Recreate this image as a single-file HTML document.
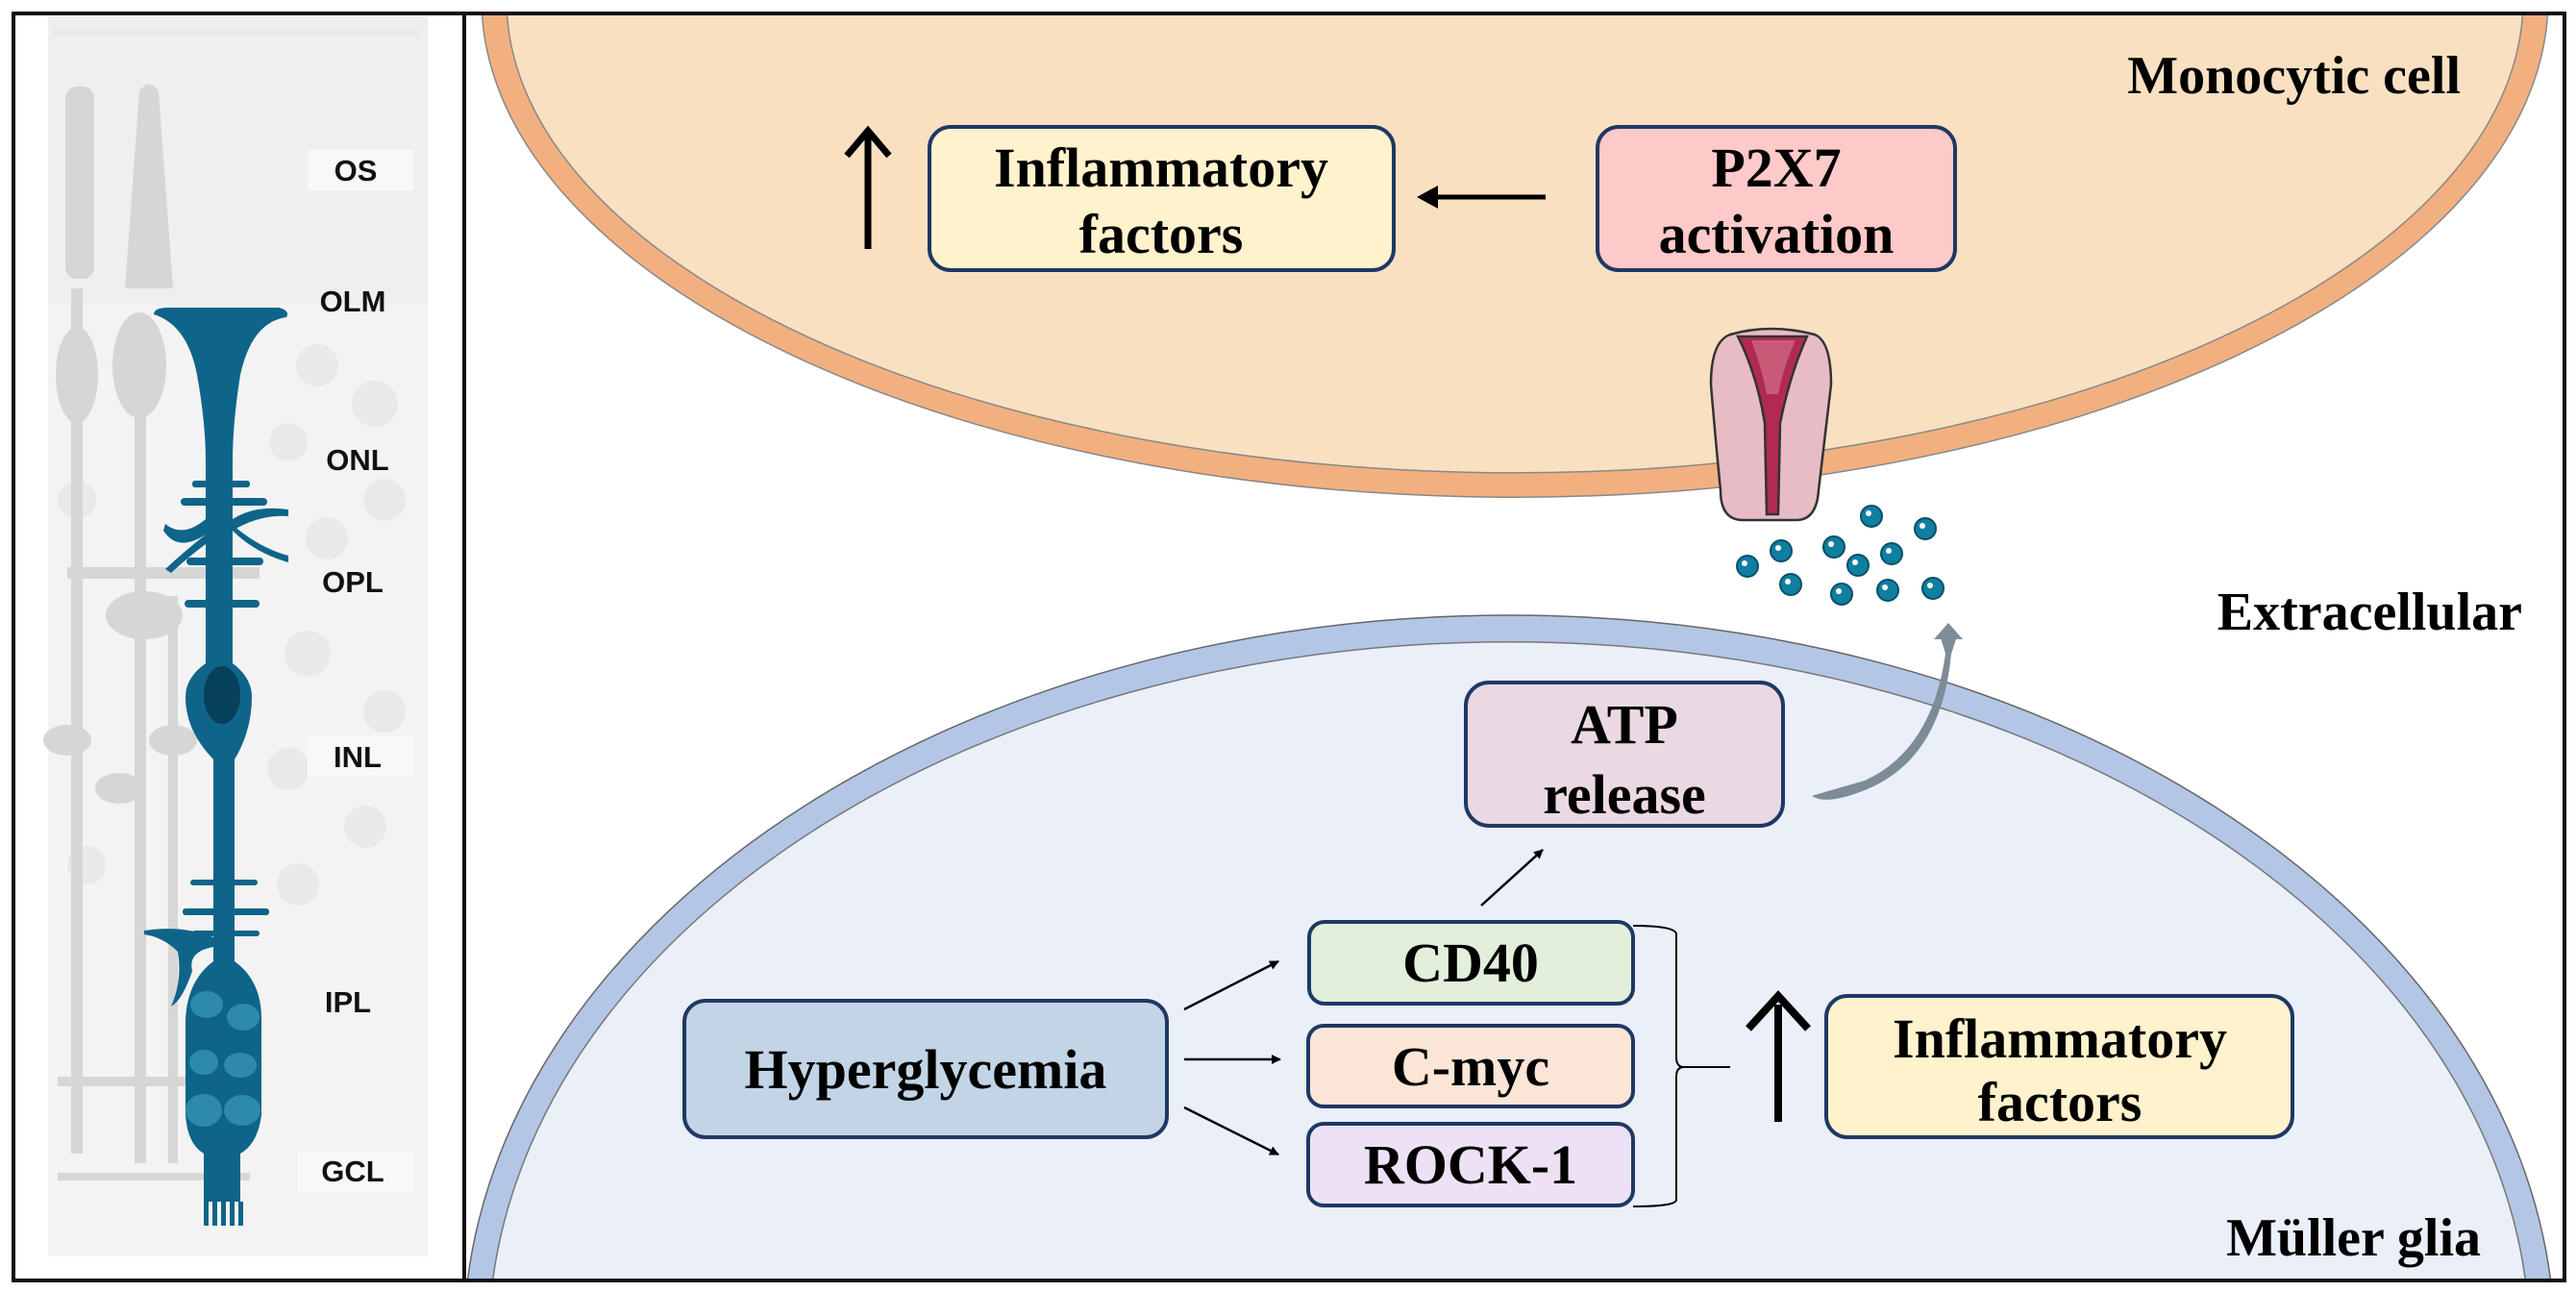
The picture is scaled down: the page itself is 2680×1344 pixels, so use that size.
<!DOCTYPE html>
<html><head><meta charset="utf-8"><style>
html,body{margin:0;padding:0;background:#fff;width:2680px;height:1344px;overflow:hidden;}
svg{display:block;position:absolute;left:0;top:0;}
text{font-family:"Liberation Serif",serif;font-weight:bold;}
.lab{font-family:"Liberation Sans",sans-serif;font-weight:bold;font-size:31px;fill:#111;}
</style></head><body>
<svg width="2680" height="1344" viewBox="0 0 2680 1344" xmlns="http://www.w3.org/2000/svg">
<defs>
<marker id="ah" markerWidth="10" markerHeight="10" refX="9" refY="5" orient="auto" markerUnits="userSpaceOnUse" viewBox="0 0 10 10"><path d="M0,0 L10,5 L0,10 z" fill="#000"/></marker>
</defs>
<rect x="0" y="0" width="2680" height="1344" fill="#fff"/>

<!-- LEFT RETINA PANEL -->
<g>
<rect x="50" y="17" width="395" height="1290" fill="#f3f3f3"/>
<rect x="50" y="17" width="395" height="300" fill="#efefef"/>
<g fill="#e9e9e9">
<rect x="55" y="30" width="380" height="8"/>
<circle cx="330" cy="380" r="22"/><circle cx="390" cy="420" r="24"/><circle cx="300" cy="460" r="20"/><circle cx="400" cy="520" r="22"/><circle cx="80" cy="520" r="20"/><circle cx="340" cy="560" r="22"/>
<circle cx="320" cy="680" r="24"/><circle cx="400" cy="740" r="22"/><circle cx="300" cy="800" r="22"/><circle cx="380" cy="860" r="22"/><circle cx="310" cy="920" r="22"/><circle cx="90" cy="900" r="20"/>
</g>
<rect x="320" y="156" width="110" height="42" fill="#f8f8f8"/>
<rect x="320" y="766" width="110" height="42" fill="#f8f8f8"/>
<rect x="310" y="1198" width="120" height="42" fill="#f8f8f8"/>
<g fill="#d6d6d6">
<rect x="68" y="90" width="30" height="200" rx="12"/>
<ellipse cx="80" cy="390" rx="22" ry="50"/>
<rect x="74" y="300" width="12" height="900"/>
<path d="M130,300 L145,95 Q155,80 165,95 L180,300 z"/>
<ellipse cx="145" cy="380" rx="28" ry="55"/>
<rect x="140" y="420" width="12" height="790"/>
<ellipse cx="150" cy="640" rx="40" ry="25"/>
<rect x="70" y="590" width="200" height="12"/>
<ellipse cx="70" cy="770" rx="25" ry="16"/><ellipse cx="124" cy="820" rx="25" ry="16"/><ellipse cx="180" cy="770" rx="25" ry="16"/>
<rect x="175" y="620" width="10" height="590"/>
<rect x="60" y="1120" width="200" height="10"/>
<rect x="60" y="1220" width="200" height="8"/>
</g>
<g fill="#0f6489">
<path d="M160,327 Q160,320 175,320 L290,320 Q302,323 298,330 Q262,335 250,390 Q242,440 242,480 L242,690 Q262,705 262,725 Q262,760 244,790 L244,1000 Q272,1020 272,1060 L272,1160 Q268,1190 250,1200 L250,1250 L212,1250 L212,1200 Q195,1190 193,1160 L193,1060 Q195,1020 222,1000 L222,790 Q193,760 193,725 Q193,705 214,690 L214,480 Q214,440 205,390 Q195,338 160,327 z"/>
<rect x="200" y="500" width="60" height="7" rx="3"/>
<rect x="188" y="518" width="90" height="8" rx="4"/>
<rect x="194" y="580" width="80" height="8" rx="4"/>
<rect x="192" y="624" width="78" height="8" rx="4"/>
<path d="M214,540 Q190,560 172,545 L170,552 Q185,575 214,556 z"/>
<path d="M214,556 Q190,575 172,592 L178,596 Q195,580 214,566 z"/>
<path d="M242,540 Q265,525 300,530 L300,537 Q270,535 242,552 z"/>
<path d="M242,552 Q265,575 300,585 L300,578 Q270,570 242,546 z"/>
<rect x="198" y="915" width="70" height="6" rx="3"/>
<rect x="190" y="945" width="90" height="7" rx="3"/>
<rect x="200" y="968" width="70" height="6" rx="3"/>
<path d="M150,968 Q190,962 222,975 L222,985 Q195,990 200,1010 Q190,1040 178,1047 Q190,1020 185,990 Q170,975 150,972 z"/>
<rect x="212" y="1250" width="5" height="25"/><rect x="221" y="1250" width="5" height="25"/><rect x="230" y="1250" width="5" height="25"/><rect x="239" y="1250" width="5" height="25"/><rect x="248" y="1250" width="5" height="25"/>
</g>
<ellipse cx="231" cy="723" rx="19" ry="30" fill="#06405a"/>
<g fill="#2e8aaa">
<ellipse cx="215" cy="1045" rx="17" ry="14"/><ellipse cx="253" cy="1058" rx="17" ry="14"/>
<ellipse cx="212" cy="1105" rx="15" ry="13"/><ellipse cx="250" cy="1108" rx="17" ry="13"/>
<ellipse cx="212" cy="1155" rx="19" ry="17"/><ellipse cx="252" cy="1155" rx="19" ry="16"/>
</g>
<text class="lab" x="370" y="188" text-anchor="middle">OS</text>
<text class="lab" x="367" y="324" text-anchor="middle">OLM</text>
<text class="lab" x="372" y="489" text-anchor="middle">ONL</text>
<text class="lab" x="367" y="616" text-anchor="middle">OPL</text>
<text class="lab" x="372" y="798" text-anchor="middle">INL</text>
<text class="lab" x="362" y="1053" text-anchor="middle">IPL</text>
<text class="lab" x="367" y="1229" text-anchor="middle">GCL</text>
</g>

<!-- MAIN PANEL cells -->
<path d="M501.5,15 A1075,518 0 0,0 2650.5,15 Z" fill="#f2b080" stroke="#888" stroke-width="1.5"/>
<path d="M527.5,15 A1049,492 0 0,0 2624.5,15 Z" fill="#f9e0c1" stroke="#888" stroke-width="1.5"/>
<path d="M486.5,1331 A1088,760 0 0,1 2653.5,1331 Z" fill="#b3c6e6" stroke="#666" stroke-width="1.5"/>
<path d="M512.7,1331 A1062,732 0 0,1 2627.3,1331 Z" fill="#eaeff8" stroke="#777" stroke-width="1.5"/>

<g stroke="#333" stroke-width="2.5">
<path d="M1800,348 Q1842,336 1888,348 Q1905,355 1905,400 Q1898,460 1892,510 Q1890,540 1870,541 L1812,541 Q1790,540 1790,510 Q1785,460 1780,400 Q1780,355 1800,348 z" fill="#e8bcc5"/>
<path d="M1808,350 L1880,350 Q1862,390 1852,440 L1850,535 L1838,535 L1836,440 Q1828,390 1808,350 z" fill="#b02a52"/>
<path d="M1822,354 L1868,354 Q1856,380 1850,410 L1838,410 Q1832,380 1822,354 z" fill="#c85a78" stroke="none"/>
</g>
<g fill="#0f7fa0" stroke="#0a4f6a" stroke-width="2">
<circle cx="1947" cy="537" r="11"/><circle cx="2003" cy="550" r="11"/><circle cx="1853" cy="573" r="11"/><circle cx="1908" cy="569" r="11"/><circle cx="1968" cy="576" r="11"/><circle cx="1818" cy="589" r="11"/><circle cx="1933" cy="588" r="11"/><circle cx="1863" cy="608" r="11"/><circle cx="1916" cy="618" r="11"/><circle cx="1964" cy="614" r="11"/><circle cx="2011" cy="612" r="11"/>
</g>
<g fill="#fff"><circle cx="1944" cy="534" r="3"/><circle cx="2000" cy="547" r="3"/><circle cx="1850" cy="570" r="3"/><circle cx="1905" cy="566" r="3"/><circle cx="1965" cy="573" r="3"/><circle cx="1815" cy="586" r="3"/><circle cx="1930" cy="585" r="3"/><circle cx="1860" cy="605" r="3"/><circle cx="1913" cy="615" r="3"/><circle cx="1961" cy="611" r="3"/><circle cx="2008" cy="609" r="3"/></g>

<path d="M1885,828 Q1900,838 1940,822 Q2020,790 2030,680 L2036,662 L2018,660 L2024,680 Q2010,780 1940,812 Q1905,822 1885,828 z" fill="#7d8c96"/>
<path d="M2012,665 L2027,648 L2042,665 z" fill="#7d8c96"/>

<g stroke="#1f3864" stroke-width="4">
<rect x="967" y="132" width="483" height="149" rx="22" fill="#fff2cc"/>
<rect x="1662" y="132" width="372" height="149" rx="22" fill="#fdc9c9"/>
<rect x="1525" y="710" width="330" height="149" rx="24" fill="#ead9e2"/>
<rect x="712" y="1041" width="502" height="142" rx="22" fill="#c2d4e6"/>
<rect x="1362" y="959" width="337" height="85" rx="16" fill="#e2efda"/>
<rect x="1361" y="1067" width="338" height="84" rx="16" fill="#fbe5d6"/>
<rect x="1361" y="1169" width="338" height="85" rx="16" fill="#ede2f5"/>
<rect x="1900" y="1036" width="485" height="147" rx="22" fill="#fff2cc"/>
</g>

<g stroke="#000" fill="none">
<line x1="903" y1="259" x2="903" y2="140" stroke-width="7"/>
<polyline points="881,162 903,136 925,162" stroke-width="7"/>
<line x1="1608" y1="205" x2="1488" y2="205" stroke-width="5"/>
<line x1="1850" y1="1167" x2="1850" y2="1045" stroke-width="8"/>
<polyline points="1819,1070 1850,1036 1881,1070" stroke-width="8"/>
<line x1="1541" y1="942" x2="1605" y2="884" stroke-width="2.5" marker-end="url(#ah)"/>
<line x1="1232" y1="1050" x2="1330" y2="1000" stroke-width="2.5" marker-end="url(#ah)"/>
<line x1="1232" y1="1102" x2="1332" y2="1102" stroke-width="2.5" marker-end="url(#ah)"/>
<line x1="1232" y1="1152" x2="1330" y2="1201" stroke-width="2.5" marker-end="url(#ah)"/>
<path d="M1699,963 Q1744,963 1744,972 L1744,1100 Q1744,1110 1752,1110 L1800,1110 M1752,1110 Q1744,1110 1744,1120 L1744,1248 Q1744,1255 1699,1255" stroke-width="2"/>
</g>
<path d="M1474,205 L1496,193 L1496,217 z" fill="#000"/>

<g font-size="58" text-anchor="middle" fill="#000">
<text x="1208" y="194">Inflammatory</text>
<text x="1208" y="263">factors</text>
<text x="1848" y="194">P2X7</text>
<text x="1848" y="263">activation</text>
<text x="1690" y="773">ATP</text>
<text x="1690" y="846">release</text>
<text x="963" y="1132">Hyperglycemia</text>
<text x="1530" y="1021">CD40</text>
<text x="1530" y="1129">C-myc</text>
<text x="1530" y="1231">ROCK-1</text>
<text x="2143" y="1100">Inflammatory</text>
<text x="2143" y="1166">factors</text>
</g>
<g font-size="56" text-anchor="end" fill="#000">
<text x="2560" y="97">Monocytic cell</text>
<text x="2624" y="655">Extracellular</text>
<text x="2581" y="1306">Müller glia</text>
</g>

<rect x="14" y="14" width="2654" height="1318" fill="none" stroke="#111" stroke-width="4"/>
<line x1="483" y1="14" x2="483" y2="1332" stroke="#111" stroke-width="4"/>
</svg>
</body></html>
